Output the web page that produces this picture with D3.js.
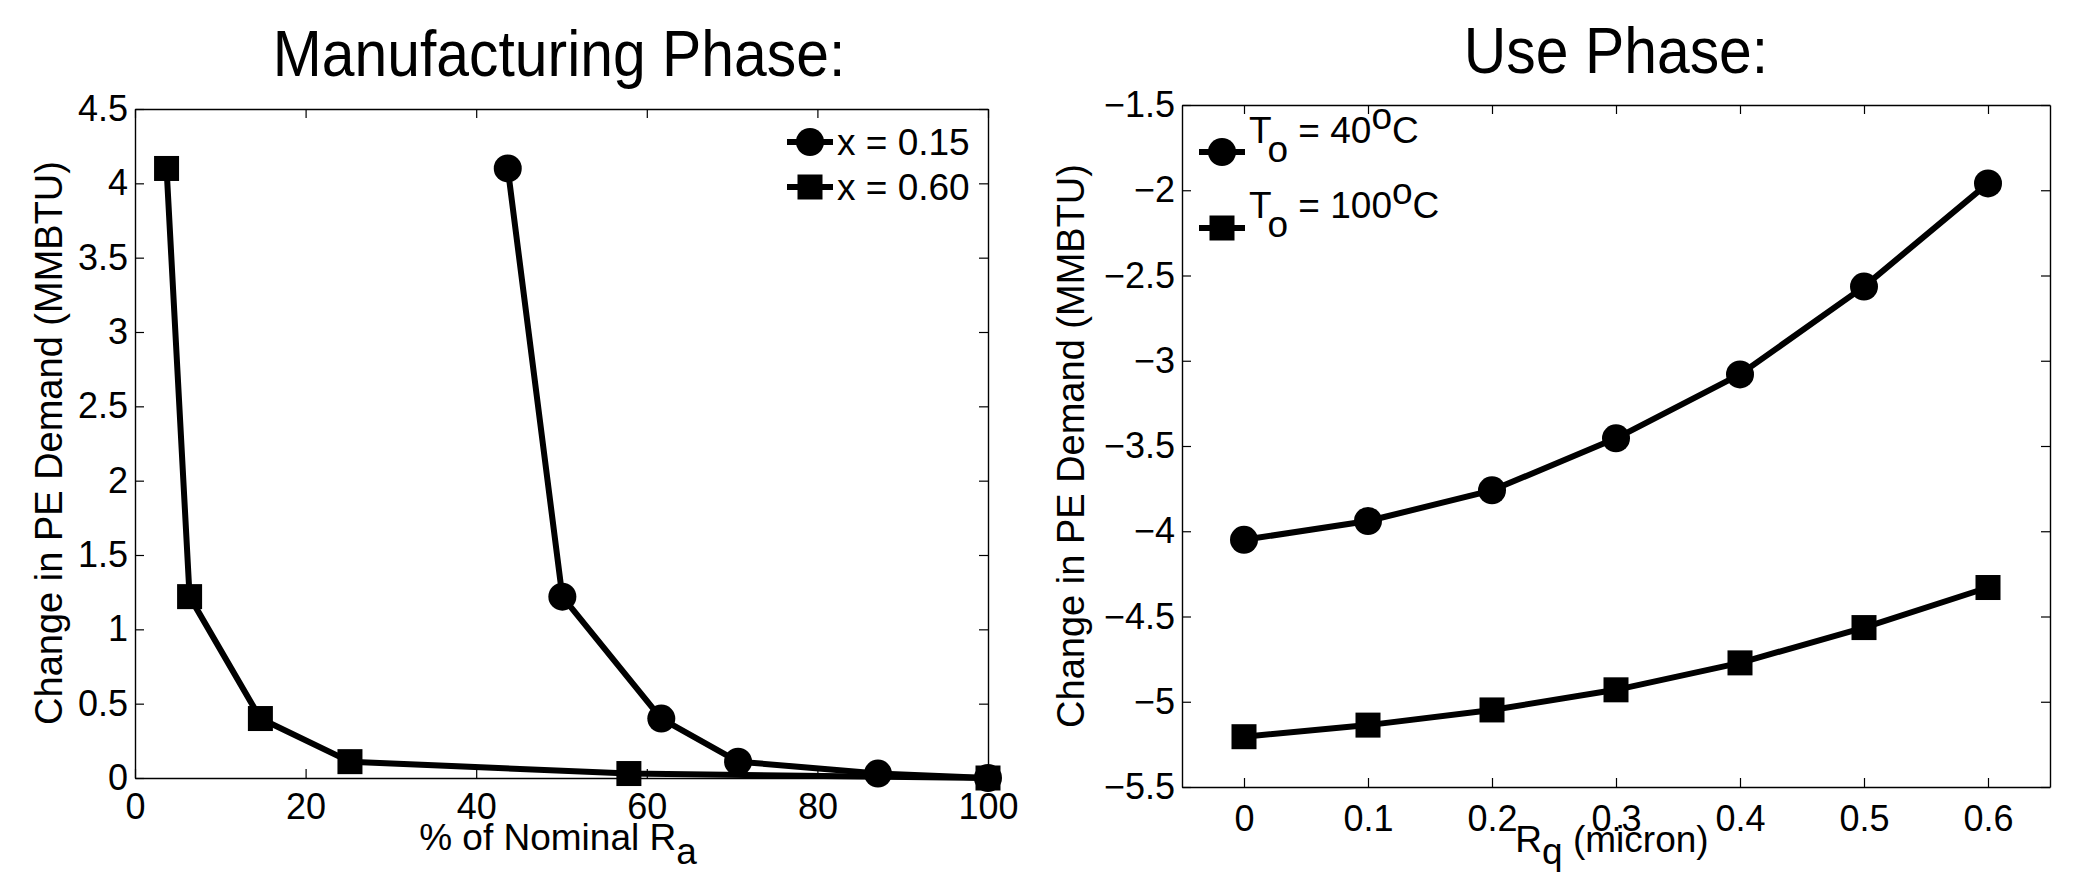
<!DOCTYPE html>
<html><head><meta charset="utf-8">
<script src="https://cdn.jsdelivr.net/npm/d3@7"></script>
<style>
html,body{margin:0;padding:0;background:#fff;}
svg text{font-family:"Liberation Sans",Arial,Helvetica,sans-serif;fill:#000;}
</style></head>
<body>
<svg id="chart" width="2079" height="872"></svg>
<script>
// ---------- data ----------
const mfgCirclesX = [43.7, 50.1, 61.7, 70.7, 87.1, 100];
const mfgCirclesY = [4.1, 1.22, 0.4, 0.11, 0.03, 0.0];
const mfgSquaresX = [3.7, 6.4, 14.7, 25.2, 57.9, 100];
const mfgSquaresY = [4.1, 1.22, 0.4, 0.11, 0.03, 0.0];
const mfgXTicks = [0, 20, 40, 60, 80, 100];
const mfgYTicks = [0, 0.5, 1, 1.5, 2, 2.5, 3, 3.5, 4, 4.5];

const useX = [0, 0.1, 0.2, 0.3, 0.4, 0.5, 0.6];
const use40 = [-4.05, -3.94, -3.76, -3.455, -3.08, -2.565, -1.96];
const use100 = [-5.205, -5.137, -5.048, -4.93, -4.772, -4.565, -4.33];
const useXTicks = [0, 0.1, 0.2, 0.3, 0.4, 0.5, 0.6];
const useYTicks = [-5.5, -5, -4.5, -4, -3.5, -3, -2.5, -2, -1.5];

const svg = d3.select("#chart");
const TICK = 9, LW = 6, R = 14, SQ = 25;
const fmtNum = d => (d < 0 ? "\u2212" + String(-d) : String(d));

function drawFrame(g, x, y, xt, yt, xPad) {
  const [x0, x1] = x.range(), [y0, y1] = y.range();
  const ab = g.append("g").attr("transform", `translate(0,${y0})`)
    .call(d3.axisBottom(x).tickValues(xt).tickFormat(fmtNum).tickSizeInner(-TICK).tickSizeOuter(0).tickPadding(xPad));
  const at = g.append("g").attr("transform", `translate(0,${y1})`)
    .call(d3.axisTop(x).tickValues(xt).tickFormat("").tickSizeInner(-TICK).tickSizeOuter(0));
  const al = g.append("g").attr("transform", `translate(${x0},0)`)
    .call(d3.axisLeft(y).tickValues(yt).tickFormat(fmtNum).tickSizeInner(-TICK).tickSizeOuter(0).tickPadding(7));
  const ar = g.append("g").attr("transform", `translate(${x1},0)`)
    .call(d3.axisRight(y).tickValues(yt).tickFormat("").tickSizeInner(-TICK).tickSizeOuter(0));
  [ab, at, al, ar].forEach(a => {
    a.selectAll("path.domain").attr("stroke", "#000").attr("stroke-width", 1.4);
    a.selectAll(".tick line").attr("stroke", "#000").attr("stroke-width", 1.2);
    a.selectAll("text").attr("font-size", 36).attr("font-family", '"Liberation Sans",Arial,sans-serif').attr("fill", "#000");
  });
}

function drawSeries(g, xs, ys, x, y, marker) {
  const pts = xs.map((v, i) => [v, ys[i]]);
  g.append("path").datum(pts)
    .attr("d", d3.line().x(d => x(d[0])).y(d => y(d[1])))
    .attr("fill", "none").attr("stroke", "#000").attr("stroke-width", LW).attr("stroke-linejoin", "round");
  if (marker === "circle") {
    g.selectAll(null).data(pts).enter().append("circle")
      .attr("cx", d => x(d[0])).attr("cy", d => y(d[1])).attr("r", R).attr("fill", "#000");
  } else {
    g.selectAll(null).data(pts).enter().append("rect")
      .attr("x", d => x(d[0]) - SQ / 2).attr("y", d => y(d[1]) - SQ / 2)
      .attr("width", SQ).attr("height", SQ).attr("fill", "#000");
  }
}

function legendMarker(g, cx, cy, marker) {
  g.append("line").attr("x1", cx - 23).attr("x2", cx + 23).attr("y1", cy).attr("y2", cy)
    .attr("stroke", "#000").attr("stroke-width", LW);
  if (marker === "circle") g.append("circle").attr("cx", cx).attr("cy", cy).attr("r", R).attr("fill", "#000");
  else g.append("rect").attr("x", cx - SQ / 2).attr("y", cy - SQ / 2).attr("width", SQ).attr("height", SQ).attr("fill", "#000");
}

function title(g, cx, by, txt) {
  g.append("text").attr("transform", `translate(${cx},${by}) scale(0.92,1)`).attr("text-anchor", "middle")
    .attr("font-size", 64).text(txt);
}

// ---------- Left: Manufacturing Phase ----------
{
  const x = d3.scaleLinear().domain([0, 100]).range([135, 988]);
  const y = d3.scaleLinear().domain([0, 4.5]).range([778, 109]);
  const g = svg.append("g");
  drawSeries(g, mfgSquaresX, mfgSquaresY, x, y, "square");
  drawSeries(g, mfgCirclesX, mfgCirclesY, x, y, "circle");
  drawFrame(g, x, y, mfgXTicks, mfgYTicks, 15);

  title(g, 559, 76, "Manufacturing Phase:");
  g.append("text").attr("transform", "translate(62,443) rotate(-90)").attr("text-anchor", "middle")
    .attr("font-size", 38).text("Change in PE Demand (MMBTU)");
  const xl = g.append("text").attr("x", 558).attr("y", 850).attr("text-anchor", "middle").attr("font-size", 37);
  xl.append("tspan").text("% of Nominal R");
  xl.append("tspan").attr("dy", 14).text("a");

  legendMarker(g, 810, 142, "circle");
  legendMarker(g, 810, 187, "square");
  g.append("text").attr("x", 837).attr("y", 155).attr("font-size", 37).text("x = 0.15");
  g.append("text").attr("x", 837).attr("y", 200).attr("font-size", 37).text("x = 0.60");
}

// ---------- Right: Use Phase ----------
{
  const x = d3.scaleLinear().domain([-0.05, 0.65]).range([1182, 2050]);
  const y = d3.scaleLinear().domain([-5.5, -1.5]).range([787, 105]);
  const g = svg.append("g");
  drawSeries(g, useX, use100, x, y, "square");
  drawSeries(g, useX, use40, x, y, "circle");
  drawFrame(g, x, y, useXTicks, useYTicks, 18);

  title(g, 1616, 73, "Use Phase:");
  g.append("text").attr("transform", "translate(1084,446) rotate(-90)").attr("text-anchor", "middle")
    .attr("font-size", 38).text("Change in PE Demand (MMBTU)");
  const xl = g.append("text").attr("x", 1612).attr("y", 852).attr("text-anchor", "middle").attr("font-size", 37);
  xl.append("tspan").text("R");
  xl.append("tspan").attr("dy", 12).text("q");
  xl.append("tspan").attr("dy", -12).text(" (micron)");

  legendMarker(g, 1222, 152, "circle");
  legendMarker(g, 1222, 228, "square");
  const lt = [["40", 143], ["100", 218]];
  lt.forEach(([t, by]) => {
    const tx = g.append("text").attr("x", 1249).attr("y", by).attr("font-size", 37);
    tx.append("tspan").text("T");
    tx.append("tspan").attr("dy", 19).text("o");
    tx.append("tspan").attr("dy", -19).text(" = " + t);
    tx.append("tspan").attr("dy", -14).text("o");
    tx.append("tspan").attr("dy", 14).text("C");
  });
}
</script>
</body></html>
